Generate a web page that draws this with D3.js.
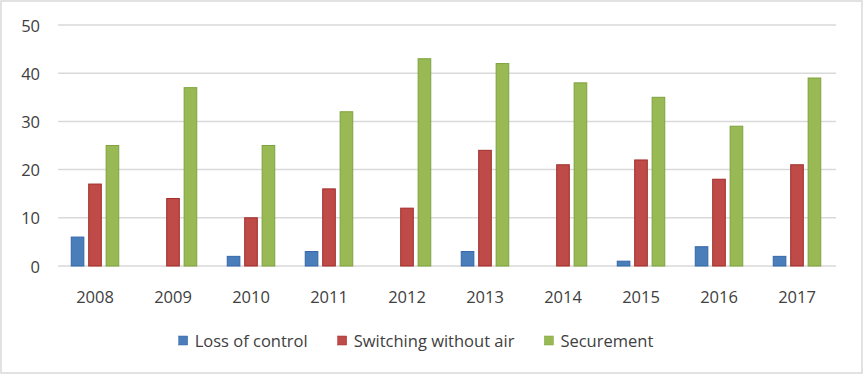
<!DOCTYPE html>
<html>
<head>
<meta charset="utf-8">
<script src="https://cdn.jsdelivr.net/npm/d3@7"></script>
<style>
  body { margin: 0; background: #fff; }
  text { font-family: "Open Sans", "Noto Sans", sans-serif; fill: #404040; }
</style>
</head>
<body>
<div id="chart"></div>
<script>
// ── data ──────────────────────────────────────────────
const years        = ["2008", "2009", "2010", "2011", "2012", "2013", "2014", "2015", "2016", "2017"];
const lossOfControl = [6, 0, 2, 3, 0, 3, 0, 1, 4, 2];
const switchingAir  = [17, 14, 10, 16, 12, 24, 21, 22, 18, 21];
const securement    = [25, 37, 25, 32, 43, 42, 38, 35, 29, 39];
const yTicks        = [0, 10, 20, 30, 40, 50];

const series = [
  { name: "Loss of control",       values: lossOfControl, fill: "#4a7ebb", stroke: "#3666a8" },
  { name: "Switching without air", values: switchingAir,  fill: "#be4b48", stroke: "#a32b29" },
  { name: "Securement",            values: securement,    fill: "#98b954", stroke: "#7ea23c" }
];

const W = 864, H = 375;
const plot = { left: 58, right: 836, top: 25, bottom: 266 };
const groupW = 48.5;

const svg = d3.select("#chart").append("svg")
  .attr("width", W)
  .attr("height", H);

// outer frame
svg.append("rect")
  .attr("x", 1).attr("y", 1)
  .attr("width", W - 3).attr("height", H - 3)
  .attr("fill", "#fff")
  .attr("stroke", "#d9d9d9")
  .attr("stroke-width", 1.5);

const x = d3.scaleBand()
  .domain(years)
  .range([57, 837]);

const x1 = d3.scaleBand()
  .domain(series.map(s => s.name))
  .range([0, groupW])
  .paddingInner(0.22);

const y = d3.scaleLinear()
  .domain([0, 50])
  .range([plot.bottom, plot.top]);

// gridlines
svg.append("g")
  .selectAll("line")
  .data(yTicks)
  .join("line")
  .attr("x1", plot.left)
  .attr("x2", plot.right)
  .attr("y1", d => y(d))
  .attr("y2", d => y(d))
  .attr("stroke", "#d9d9d9")
  .attr("stroke-width", 1.5);

// y labels
svg.append("g")
  .selectAll("text")
  .data(yTicks)
  .join("text")
  .attr("x", 40)
  .attr("y", d => y(d))
  .attr("text-anchor", "end")
  .attr("dominant-baseline", "central")
  .attr("font-size", 16.5)
  .text(d => d);

// bars
const groupOff = (x.bandwidth() - groupW) / 2 - 1;
series.forEach(s => {
  svg.append("g")
    .selectAll("rect")
    .data(years.map((yr, i) => ({ yr, v: s.values[i] })))
    .join("rect")
    .attr("x", d => x(d.yr) + groupOff + x1(s.name) + 0.5)
    .attr("y", d => y(d.v))
    .attr("width", x1.bandwidth() - 1)
    .attr("height", d => y(0) - y(d.v))
    .attr("fill", s.fill)
    .attr("stroke", s.stroke)
    .attr("stroke-width", 1);
});

// x labels
svg.append("g")
  .selectAll("text")
  .data(years)
  .join("text")
  .attr("x", d => x(d) + x.bandwidth() / 2 - 1)
  .attr("y", 296)
  .attr("text-anchor", "middle")
  .attr("dominant-baseline", "central")
  .attr("font-size", 16.5)
  .text(d => d);

// legend
const legend = svg.append("g");
let lx = 0;
series.forEach((s, i) => {
  const g = legend.append("g").attr("transform", `translate(${lx},0)`);
  g.append("rect")
    .attr("x", 0).attr("y", 336)
    .attr("width", 9).attr("height", 9)
    .attr("fill", s.fill)
    .attr("stroke", s.stroke)
    .attr("stroke-width", 0.5);
  const t = g.append("text")
    .attr("x", 16)
    .attr("y", 340)
    .attr("dominant-baseline", "central")
    .attr("font-size", 16.5)
    .text(s.name);
  lx += 16 + t.node().getComputedTextLength() + 30;
});
const legW = lx - 30;
legend.attr("transform", `translate(${416 - legW / 2},0)`);
</script>
</body>
</html>
